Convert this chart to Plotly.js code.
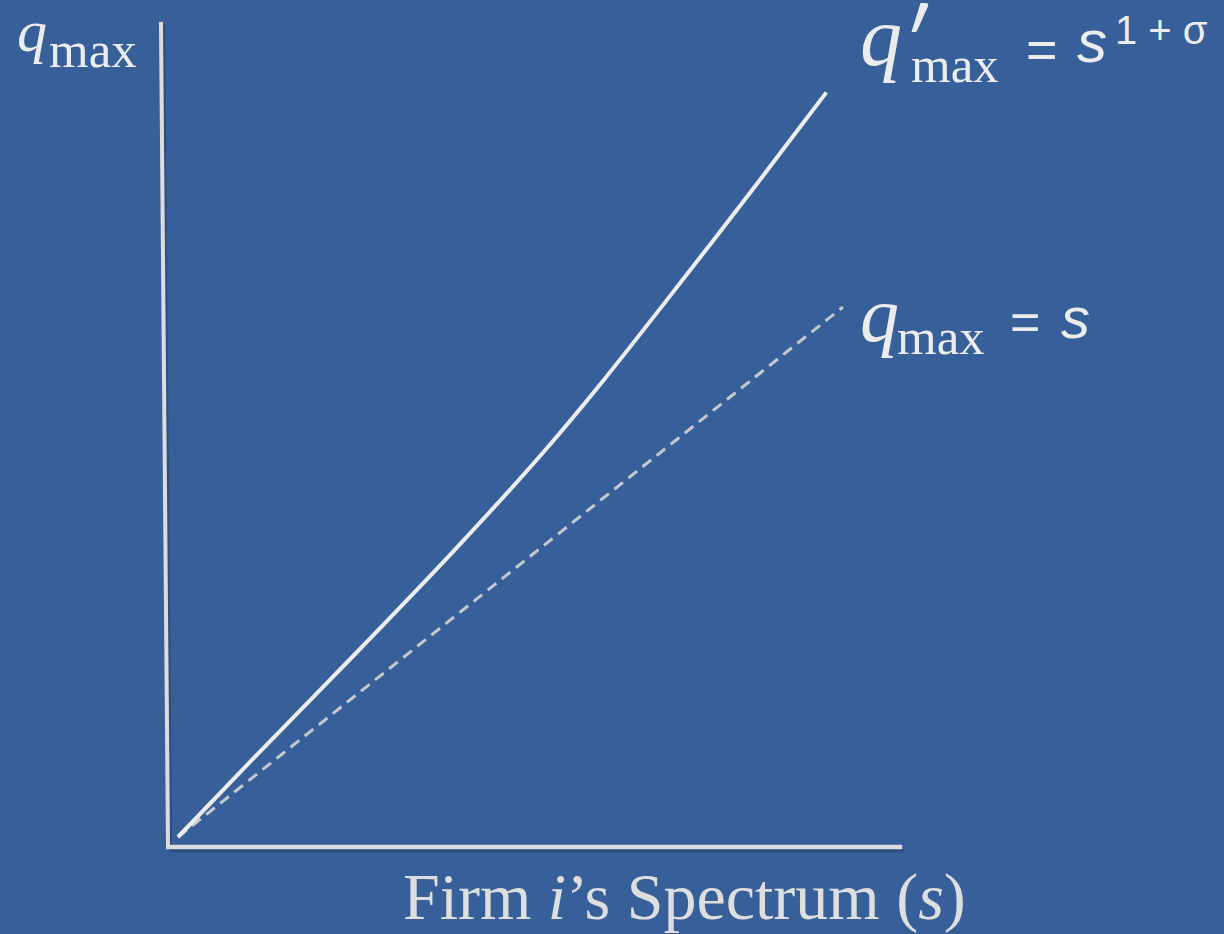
<!DOCTYPE html>
<html>
<head>
<meta charset="utf-8">
<script src="https://cdn.plot.ly/plotly-3.0.1.min.js"></script>
<style>
  html, body { margin: 0; padding: 0; background: #37609a; }
  #chart { width: 1224px; height: 934px; }
</style>
</head>
<body>
<div id="chart"></div>
<script>
// Spectrum s (x) and capacity q (y)
const spectrum = [0, 1.2, 2.7, 4.2, 5.5, 6.4, 7.35, 8.6, 9.75];
const qPrimeMax = [0, 1.57, 3.5, 5.47, 7.27, 8.62, 10.13, 12.15, 14.05];
const spectrumLinear = [0, 10];
const qMaxLinear = [0, 10];

const W = 1224, H = 934;
const bg = '#37609a';

// pixel -> paper helpers for labels
const px = x => x / W;
const py = y => 1 - y / H;

// text placed by its left edge and baseline (pixels)
function label(text, left, baseline, size, family, italic, color) {
    return {
        xref: 'paper', yref: 'paper',
        x: px(left), y: py(baseline + 0.22 * size + 1),
        xanchor: 'left', yanchor: 'bottom',
        text: italic ? '<i>' + text + '</i>' : text,
        showarrow: false,
        font: { family: family, size: size, color: color || '#ececec' }
    };
}

const serif = 'Liberation Serif, serif';
const sans = 'Liberation Sans, Arial, sans-serif';

const data = [
    {
        x: spectrumLinear, y: qMaxLinear, type: 'scatter', mode: 'lines',
        line: { color: '#c5c9ce', width: 3, dash: '11px,7px' },
        hoverinfo: 'skip'
    },
    {
        x: spectrum, y: qPrimeMax, type: 'scatter', mode: 'lines',
        line: { color: '#ececec', width: 4, shape: 'spline', smoothing: 0.8 },
        hoverinfo: 'skip'
    }
];

// axes drawn as shapes (y axis leans a little in the original)
const axisColor = '#dcdcdc';
const shade = 'rgba(20,40,70,0.3)';
const shapes = [
    { type: 'line', xref: 'x', yref: 'y', x0: -0.215, y0: 15.33, x1: -0.11, y1: -0.24,
      line: { color: shade, width: 3 } },
    { type: 'line', xref: 'x', yref: 'y', x0: -0.12, y0: -0.25, x1: 10.92, y1: -0.25,
      line: { color: shade, width: 4 } },
    { type: 'line', xref: 'x', yref: 'y', x0: -0.256, y0: 15.38, x1: -0.15, y1: -0.19,
      line: { color: axisColor, width: 4 } },
    { type: 'line', xref: 'x', yref: 'y', x0: -0.18, y0: -0.19, x1: 10.89, y1: -0.19,
      line: { color: axisColor, width: 4.5 } }
];

const annotations = [
    // top-left axis label
    label('q', 15, 52, 60, serif, true),
    label('max', 47, 68, 51, serif, false),
    // curved line label
    label('q', 858, 66, 84, serif, true),
    label('′', 897, 78, 92, 'Lato, sans-serif', true),
    label('max', 909, 83, 51, serif, false),
    label('=', 1024, 68, 54, sans, false),
    label('s', 1075, 63, 60, sans, true),
    label('1 + σ', 1113, 44, 40, sans, false),
    // dashed line label
    label('q', 858, 342, 78, serif, true),
    label('max', 895, 355, 51, serif, false),
    label('=', 1008, 341, 52, sans, false),
    label('s', 1059, 338, 58, sans, true),
    // x axis title
    label('Firm <i>i</i>’s Spectrum (<i>s</i>)', 401, 920, 66, serif, false, '#dedede')
];

const layout = {
    width: W, height: H,
    margin: { l: 0, r: 0, t: 0, b: 0 },
    paper_bgcolor: bg, plot_bgcolor: bg,
    showlegend: false,
    xaxis: { range: [-178 / 66.5, (W - 178) / 66.5], visible: false, fixedrange: true },
    yaxis: { range: [(837 - H) / 53, 837 / 53], visible: false, fixedrange: true },
    shapes: shapes,
    annotations: annotations
};

Plotly.newPlot('chart', data, layout, { displayModeBar: false, staticPlot: true });
</script>
</body>
</html>
